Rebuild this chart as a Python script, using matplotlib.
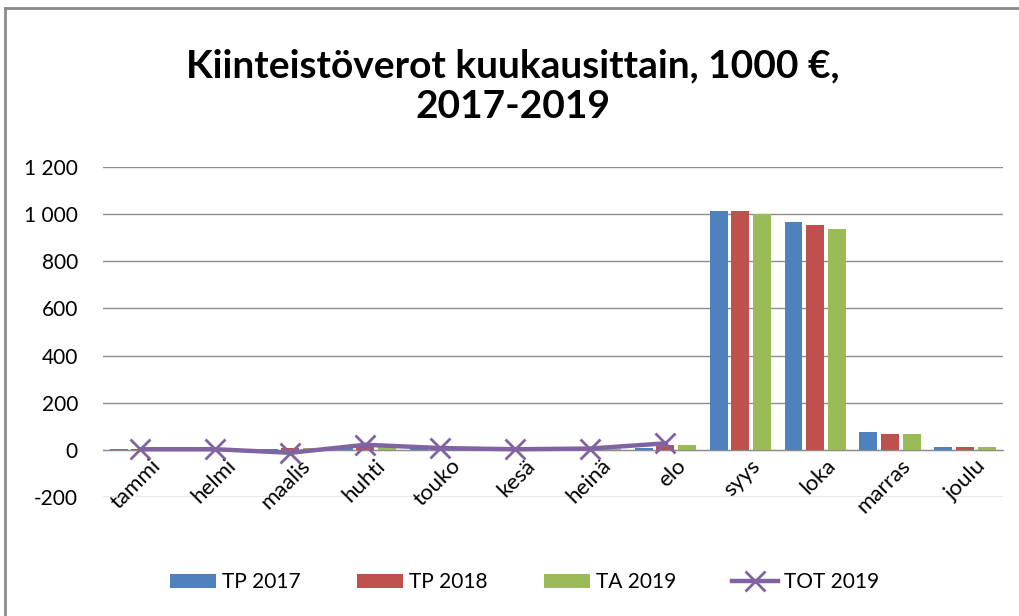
import numpy as np
import matplotlib.pyplot as plt
import matplotlib.transforms as mtransforms
from matplotlib.lines import Line2D
from matplotlib.ticker import FuncFormatter, MultipleLocator

months = ["tammi", "helmi", "maalis", "huhti", "touko", "kesä",
          "heinä", "elo", "syys", "loka", "marras", "joulu"]
tp2017 = [2, 1, 5, 18, 5, 2, 4, 8, 1015, 965, 75, 14]
tp2018 = [2, 1, 8, 25, 5, 2, 4, 22, 1015, 955, 68, 13]
ta2019 = [2, 1, 10, 18, 5, 2, 4, 22, 1000, 938, 68, 12]
tot2019 = [3, 3, -12, 22, 8, 3, 6, 28]

plt.rcParams['font.family'] = ['Lato', 'DejaVu Sans']

fig = plt.figure(figsize=(10.19, 6.16), dpi=100)
ax = fig.add_axes([0.101, 0.193, 0.883, 0.536])

x = np.arange(len(months))
w = 0.24
ax.bar(x - 0.29, tp2017, w, color="#4F81BD", label="TP 2017", zorder=2)
ax.bar(x, tp2018, w, color="#C0504D", label="TP 2018", zorder=2)
ax.bar(x + 0.29, ta2019, w, color="#9BBB59", label="TA 2019", zorder=2)
ax.plot(x[:len(tot2019)], tot2019, color="#8064A2", lw=3.2, marker="x",
        markersize=15, markeredgewidth=2, label="TOT 2019", zorder=3)

ax.set_xlim(-0.5, len(months) - 0.5)
ax.set_ylim(-200, 1200)
ax.yaxis.set_major_locator(MultipleLocator(200))
ax.yaxis.set_major_formatter(FuncFormatter(lambda v, p: f"{int(v):,}".replace(",", " ")))
ax.grid(axis="y", color="#8c8c8c", lw=1, zorder=0)
ax.set_axisbelow(True)

for s in ["top", "right", "left"]:
    ax.spines[s].set_visible(False)
ax.spines["bottom"].set_position(("data", 0))
ax.spines["bottom"].set_color("#8c8c8c")
ax.tick_params(axis="y", length=0, labelsize=15, pad=18)
ax.tick_params(axis="x", length=0, labelsize=16, pad=4)
ax.set_xticks(x)
ax.set_xticklabels(months, rotation=45, ha="right", rotation_mode="anchor")
shift = mtransforms.ScaledTranslation(10 / 100, 0, fig.dpi_scale_trans)
for lbl in ax.get_xticklabels():
    lbl.set_transform(lbl.get_transform() + shift)

fig.text(0.503, 0.86, "Kiinteistöverot kuukausittain, 1000 €,\n2017-2019",
         ha="center", va="center", fontsize=28, fontweight="bold", linespacing=1.2)

h, l = ax.get_legend_handles_labels()
order = [1, 2, 3, 0]
fig.legend([h[i] for i in order], [l[i] for i in order], loc="center",
           bbox_to_anchor=(0.515, 0.055), ncol=4, frameon=False,
           fontsize=15, handlelength=2.2, columnspacing=2.7, handletextpad=0.3)

# chart frame (cropped at right and bottom)
fig.add_artist(Line2D([5 / 1019, 1], [1 - 8 / 616, 1 - 8 / 616], color="#8a8a8a", lw=2))
fig.add_artist(Line2D([5 / 1019, 5 / 1019], [0, 1 - 8 / 616], color="#8a8a8a", lw=2))

fig.savefig("out.png", dpi=100)
